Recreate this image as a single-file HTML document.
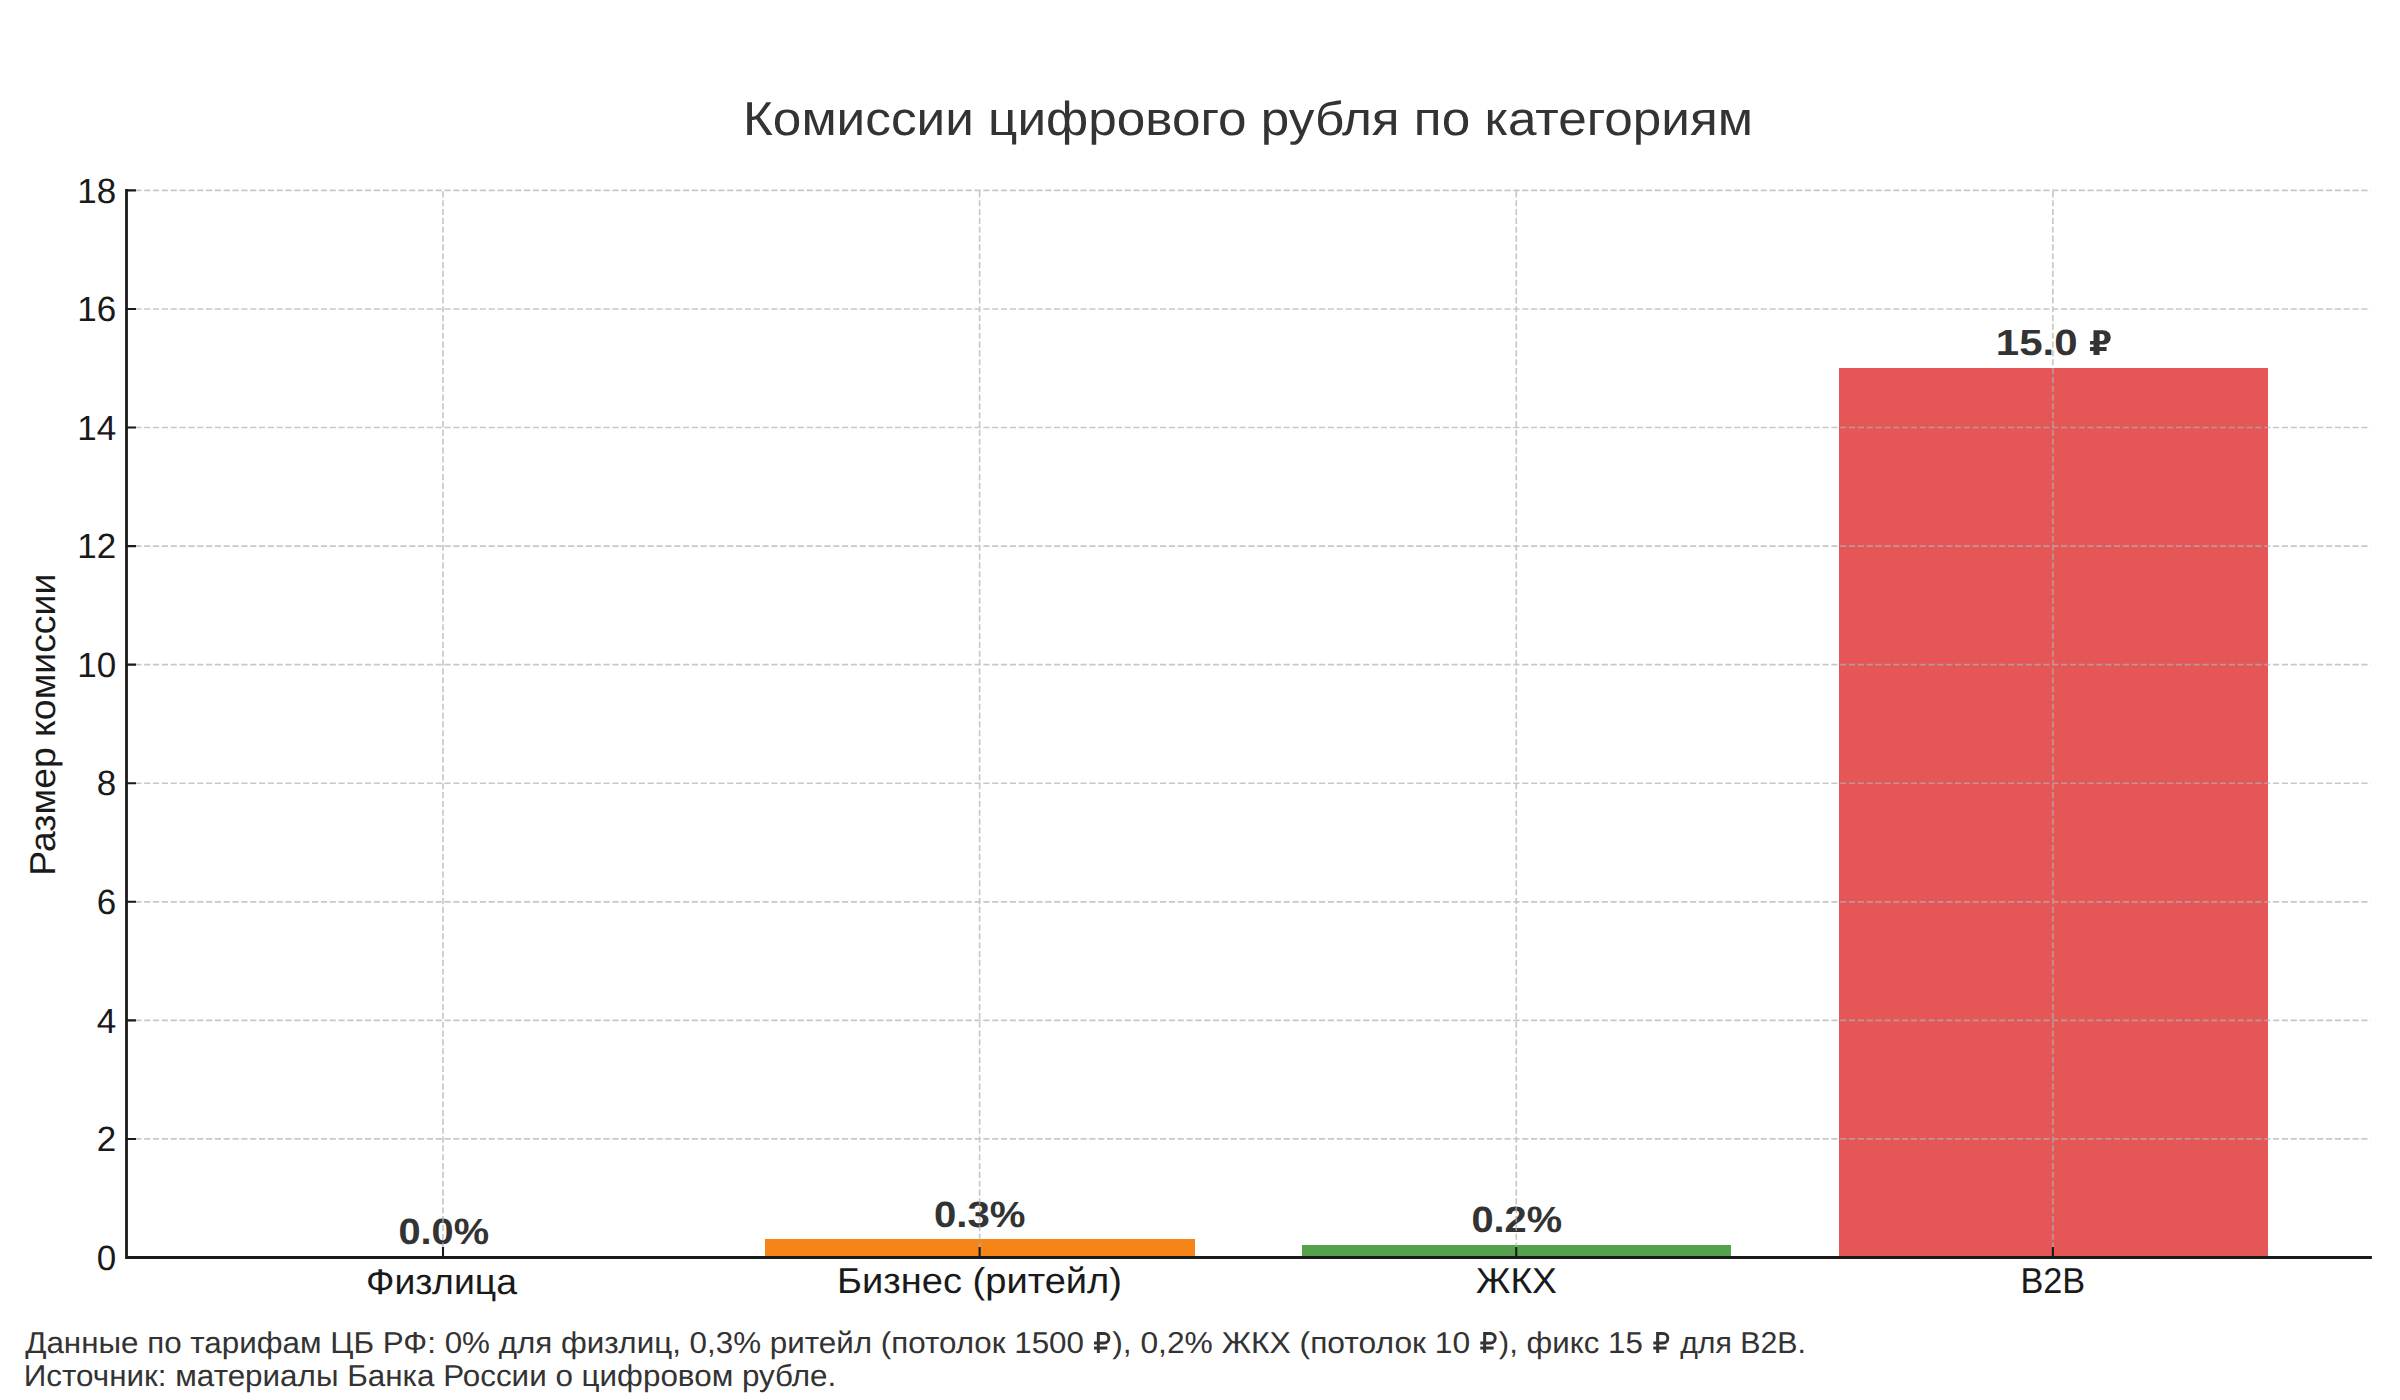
<!DOCTYPE html><html><head><meta charset="utf-8"><style>html,body{margin:0;padding:0;background:#fff;width:2400px;height:1400px;overflow:hidden}svg{display:block}text{font-family:"Liberation Sans", sans-serif;text-rendering:geometricPrecision}</style></head><body>
<svg width="2400" height="1400" viewBox="0 0 2400 1400">
<rect width="2400" height="1400" fill="#fff"/>
<rect x="765" y="1239" width="430" height="18.50" fill="#F58518"/>
<rect x="1302" y="1245" width="429" height="12.50" fill="#54A24B"/>
<rect x="1839" y="368" width="429" height="889.50" fill="#E45756"/>
<text x="743.00" y="135.00" font-size="47.50" font-weight="normal" fill="#333333" textLength="1010.00" lengthAdjust="spacingAndGlyphs">Комиссии цифрового рубля по категориям</text>
<text x="366.00" y="1293.50" font-size="35.90" font-weight="normal" fill="#1a1a1a" textLength="151.00" lengthAdjust="spacingAndGlyphs">Физлица</text>
<text x="837.00" y="1293.30" font-size="35.90" font-weight="normal" fill="#1a1a1a" textLength="285.00" lengthAdjust="spacingAndGlyphs">Бизнес (ритейл)</text>
<text x="1476.00" y="1292.90" font-size="35.90" font-weight="normal" fill="#1a1a1a" textLength="81.00" lengthAdjust="spacingAndGlyphs">ЖКХ</text>
<text x="2020.40" y="1292.80" font-size="35.90" font-weight="normal" fill="#1a1a1a" textLength="64.80" lengthAdjust="spacingAndGlyphs">B2B</text>
<text x="398.40" y="1243.90" font-size="36.50" font-weight="bold" fill="#333333" textLength="90.80" lengthAdjust="spacingAndGlyphs">0.0%</text>
<text x="934.00" y="1226.60" font-size="36.50" font-weight="bold" fill="#333333" textLength="91.60" lengthAdjust="spacingAndGlyphs">0.3%</text>
<text x="1471.40" y="1231.60" font-size="36.50" font-weight="bold" fill="#333333" textLength="90.80" lengthAdjust="spacingAndGlyphs">0.2%</text>
<text x="1995.80" y="354.90" font-size="36.50" font-weight="bold" fill="#333333" textLength="81.80" lengthAdjust="spacingAndGlyphs">15.0</text>
<text x="25.20" y="1352.60" font-size="30.20" font-weight="normal" fill="#333333" textLength="1058.80" lengthAdjust="spacingAndGlyphs">Данные по тарифам ЦБ РФ: 0% для физлиц, 0,3% ритейл (потолок 1500</text>
<text x="1112.20" y="1352.60" font-size="30.20" font-weight="normal" fill="#333333" textLength="358.00" lengthAdjust="spacingAndGlyphs">), 0,2% ЖКХ (потолок 10</text>
<text x="1498.80" y="1352.60" font-size="30.20" font-weight="normal" fill="#333333" textLength="144.00" lengthAdjust="spacingAndGlyphs">), фикс 15</text>
<text x="1680.20" y="1352.60" font-size="30.20" font-weight="normal" fill="#333333" textLength="125.80" lengthAdjust="spacingAndGlyphs">для B2B.</text>
<text x="23.80" y="1385.70" font-size="30.20" font-weight="normal" fill="#333333" textLength="812.40" lengthAdjust="spacingAndGlyphs">Источник: материалы Банка России о цифровом рубле.</text>
<text transform="translate(55.00,875.70) rotate(-90)" x="0" y="0" font-size="36.00" fill="#1a1a1a" textLength="302.00" lengthAdjust="spacingAndGlyphs">Размер комиссии</text>
<text x="116.30" y="1269.70" font-size="35.00" fill="#1a1a1a" text-anchor="end">0</text>
<text x="116.30" y="1151.13" font-size="35.00" fill="#1a1a1a" text-anchor="end">2</text>
<text x="116.30" y="1032.57" font-size="35.00" fill="#1a1a1a" text-anchor="end">4</text>
<text x="116.30" y="914.00" font-size="35.00" fill="#1a1a1a" text-anchor="end">6</text>
<text x="116.30" y="795.43" font-size="35.00" fill="#1a1a1a" text-anchor="end">8</text>
<text x="116.30" y="676.87" font-size="35.00" fill="#1a1a1a" text-anchor="end">10</text>
<text x="116.30" y="558.30" font-size="35.00" fill="#1a1a1a" text-anchor="end">12</text>
<text x="116.30" y="439.73" font-size="35.00" fill="#1a1a1a" text-anchor="end">14</text>
<text x="116.30" y="321.17" font-size="35.00" fill="#1a1a1a" text-anchor="end">16</text>
<text x="116.30" y="202.60" font-size="35.00" fill="#1a1a1a" text-anchor="end">18</text>
<path d="M126.50 1138.93H2370.50M126.50 1020.37H2370.50M126.50 901.80H2370.50M126.50 783.23H2370.50M126.50 664.67H2370.50M126.50 546.10H2370.50M126.50 427.53H2370.50M126.50 308.97H2370.50M126.50 190.40H2370.50M443.00 1257.50V190.40M979.63 1257.50V190.40M1516.26 1257.50V190.40M2052.89 1257.50V190.40" stroke="#b0b0b0" stroke-opacity="0.7" stroke-width="1.67" stroke-dasharray="6.1667 2.6667" fill="none"/>
<path d="M126.50 1257.50H136.00M126.50 1138.93H136.00M126.50 1020.37H136.00M126.50 901.80H136.00M126.50 783.23H136.00M126.50 664.67H136.00M126.50 546.10H136.00M126.50 427.53H136.00M126.50 308.97H136.00M126.50 190.40H136.00M443.00 1257.50V1247.00M979.63 1257.50V1247.00M1516.26 1257.50V1247.00M2052.89 1257.50V1247.00" stroke="#1a1a1a" stroke-width="2.1" fill="none"/>
<path d="M126.50 190.40V1257.50H2370.50" stroke="#1a1a1a" stroke-width="2.8" fill="none" stroke-linecap="square" stroke-linejoin="miter"/>
<path d="M2093.50 330.20H2102.50C2107.60 330.20 2110.70 333.20 2110.70 337.40C2110.70 341.60 2107.60 344.50 2102.50 344.50H2099.60V347.10H2106.60V350.90H2099.60V354.90H2093.50V350.90H2090.00V347.10H2093.50V344.50H2090.00V341.00H2093.50V330.20ZM2099.60 334.00H2101.60C2103.60 334.00 2104.60 335.40 2104.60 337.40C2104.60 339.40 2103.60 340.90 2101.60 340.90H2099.60Z" fill="#333333" fill-rule="evenodd"/>
<path d="M1098.35 1352.90V1333.50H1104.05A4.75 4.75 0 0 1 1104.05 1343.00H1094.00M1094.00 1348.00H1107.30" stroke="#333333" stroke-width="3.00" fill="none"/>
<path d="M1484.65 1352.90V1333.50H1490.45A4.75 4.75 0 0 1 1490.45 1343.00H1480.30M1480.30 1348.00H1493.60" stroke="#333333" stroke-width="3.00" fill="none"/>
<path d="M1657.65 1352.90V1333.50H1663.05A4.75 4.75 0 0 1 1663.05 1343.00H1653.30M1653.30 1348.00H1666.60" stroke="#333333" stroke-width="3.00" fill="none"/>
</svg></body></html>
